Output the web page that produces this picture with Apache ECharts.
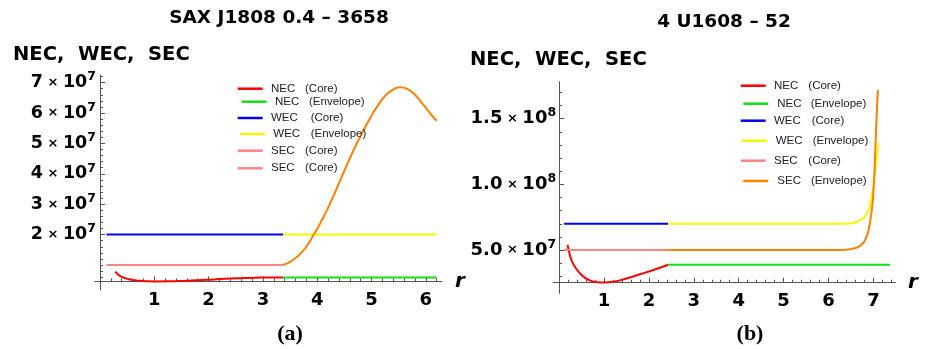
<!DOCTYPE html>
<html><head><meta charset="utf-8">
<script src="https://cdn.jsdelivr.net/npm/echarts@6/dist/echarts.min.js"></script>
<style>html,body{margin:0;padding:0;background:#fff}#c{width:926px;height:349px}</style>
</head><body><div id="c"></div>
<script>
// ---------- DATA (panel a: SAX J1808 0.4 - 3658) ----------
const titleA = 'SAX J1808 0.4 – 3658';
const xTicksA = [1, 2, 3, 4, 5, 6];
const yTicksA = [2e7, 3e7, 4e7, 5e7, 6e7, 7e7];
const necCoreA = [[0.28,7.8e6],[0.36,6.5e6],[0.45,5.75e6],[0.55,5.25e6],[0.66,4.93e6],[0.78,4.74e6],[0.9,4.63e6],[1.04,4.6e6],[1.25,4.63e6],[1.5,4.74e6],[1.8,4.95e6],[2.1,5.25e6],[2.4,5.53e6],[2.7,5.73e6],[3.0,5.85e6],[3.37,5.9e6]];
const necEnvA = [[3.37,5.9e6],[6.2,5.9e6]];
const wecCoreA = [[0.12,2e7],[3.37,2e7]];
const wecEnvA = [[3.37,2e7],[6.2,2e7]];
const secCoreA = [[0.12,1e7],[3.37,1e7]];
const secEnvA = [[3.37,1.0e7],[3.5,1.1e7],[3.65,1.3e7],[3.8,1.6e7],[3.93,1.98e7],[4.05,2.35e7],[4.2,2.88e7],[4.35,3.48e7],[4.5,4.1e7],[4.65,4.7e7],[4.8,5.25e7],[4.95,5.75e7],[5.1,6.2e7],[5.25,6.56e7],[5.4,6.78e7],[5.52,6.85e7],[5.65,6.8e7],[5.8,6.6e7],[5.95,6.28e7],[6.1,5.95e7],[6.2,5.74e7]];
const legendNamesA = ['NEC (Core)','NEC (Envelope)','WEC (Core)','WEC (Envelope)','SEC (Core)','SEC (Core)'];

// ---------- DATA (panel b: 4 U1608 - 52) ----------
const titleB = '4 U1608 – 52';
const xTicksB = [1, 2, 3, 4, 5, 6, 7];
const yTicksB = [5e7, 1e8, 1.5e8];
const necCoreB = [[0.19,5.38e7],[0.23,4.75e7],[0.28,4.2e7],[0.35,3.72e7],[0.45,3.28e7],[0.57,2.9e7],[0.7,2.67e7],[0.85,2.54e7],[0.99,2.52e7],[1.2,2.58e7],[1.5,2.83e7],[1.8,3.15e7],[2.1,3.48e7],[2.43,3.88e7]];
const necEnvB = [[2.43,3.88e7],[7.37,3.88e7]];
const wecCoreB = [[0.11,7e7],[2.43,7e7]];
const wecEnvB = [[2.43,7e7],[6.4,7e7],[6.55,7.06e7],[6.7,7.25e7],[6.81,7.54e7],[6.9,8.1e7],[6.96,9.0e7],[7.0,9.9e7],[7.04,11.0e7],[7.08,12.2e7],[7.11,13.15e7]];
const secCoreB = [[0.11,5e7],[2.43,5e7]];
const secEnvB = [[2.43,5e7],[6.3,5e7],[6.48,5.05e7],[6.6,5.15e7],[6.7,5.3e7],[6.8,5.65e7],[6.87,6.2e7],[6.92,7.0e7],[6.96,7.9e7],[6.99,8.9e7],[7.02,10.6e7],[7.035,12.0e7],[7.06,14.2e7],[7.08,15.8e7],[7.1,17.2e7]];
const legendNamesB = ['NEC (Core)','NEC (Envelope)','WEC (Core)','WEC (Envelope)','SEC (Core)','SEC (Envelope)'];

const yAxisTitle = 'NEC,  WEC,  SEC';
const xAxisTitle = 'r';
const panelTags = ['(a)', '(b)'];

// ---------- STYLE / LAYOUT ----------
const C = {red:'#ff0000', green:'#12e012', blue:'#0000ff', yellow:'#f6f600', pink:'#ff8585', orange:'#ff8000'};
const seriesColorsA = [C.red, C.green, C.blue, C.yellow, C.pink, C.orange];
const legendColorsA = [C.red, C.green, C.blue, C.yellow, C.pink, C.pink];
const legendColorsB = [C.red, C.green, C.blue, C.yellow, C.pink, C.orange];
// [iconLeft, iconCenterY, textStart, secondWordStart]
const legendPosA = [[237.7,88.7,271,305],[241.7,101.7,275,309],[237.7,118,271,310.7],[240,134,273.3,310.7],[237.7,150.7,271,305],[237.7,168.3,271,305]];
const legendPosB = [[740.7,85.7,774,808.3],[743.3,103.7,777.3,810.7],[740.7,120.7,774,811.7],[741.7,140.7,775.7,812.7],[740.7,160.7,774,808.3],[743.3,181,777.3,811]];

const BOLD = '"DejaVu Sans", "Liberation Sans", sans-serif';
const AX = '#555';

function minorTicks(from, to, step, majors) {
  const out = [];
  for (let v = from; v <= to + step * 1e-6; v += step) {
    const r = Math.round(v / step) * step;
    if (!majors.some(m => Math.abs(m - r) < step * 1e-3)) out.push(+r.toPrecision(6));
  }
  return out;
}

function yFormatter(dec) {
  return function (v) {
    const e = Math.floor(Math.log10(v) + 1e-9);
    const m = v / Math.pow(10, e);
    return '{n|' + m.toFixed(dec) + '}{x| × }{n|10}{s|' + e + '}';
  };
}
function yRich(fs) {
  return {
    n: {fontFamily: BOLD, fontWeight: 'bold', fontSize: fs, color: '#000', lineHeight: 24},
    x: {fontFamily: BOLD, fontWeight: 'bold', fontSize: 13, color: '#000', lineHeight: 24},
    s: {fontFamily: BOLD, fontWeight: 'bold', fontSize: 12.5, color: '#000', lineHeight: 9, verticalAlign: 'top'}
  };
}

// panel geometry
const G = [
  {left: 95, top: 75, width: 347, height: 215, xMin: -0.092, pxX: 54.3, yMax: 7.25e7, pxY: 30.4 / 1e7, cross: 0.46e7,
   xMaj: xTicksA, yMaj: yTicksA, xMinor: minorTicks(0.2, 6.2, 0.2, xTicksA), yMinor: minorTicks(0.6e7, 7.2e7, 0.2e7, yTicksA),
   dec: 0, fs: 17.5, margin: 4, nameGap: 13},
  {left: 553, top: 81.7, width: 342.5, height: 211.6, xMin: -0.136, pxX: 44.9, yMax: 17.82e7, pxY: 13.13 / 1e7, cross: 2.51e7,
   xMaj: xTicksB, yMaj: yTicksB, xMinor: minorTicks(0.2, 7.4, 0.2, xTicksB), yMinor: minorTicks(3e7, 17e7, 1e7, yTicksB),
   dec: 1, fs: 18, margin: 3, nameGap: 12.5}
];

const grids = [], xAxes = [], yAxes = [];
G.forEach((g, i) => {
  grids.push({left: g.left, top: g.top, width: g.width, height: g.height, containLabel: false, outerBoundsMode: 'none'});
  const xMax = g.xMin + g.width / g.pxX;
  const yMin = g.yMax - g.height / g.pxY;
  const yOff = g.xMin * g.pxX;
  const xOff = (g.top + (g.yMax - g.cross) * g.pxY) - (g.top + g.height);
  const common = {type: 'value', gridIndex: i, splitLine: {show: false}, minorTick: {show: false}};
  xAxes.push(Object.assign({}, common, {
    min: g.xMin, max: xMax, position: 'bottom', offset: xOff,
    axisLine: {show: true, onZero: false, lineStyle: {color: AX, width: 1}},
    axisTick: {show: true, inside: true, length: 5, lineStyle: {color: AX}, customValues: g.xMaj},
    axisLabel: {show: true, customValues: g.xMaj, margin: 10, fontFamily: BOLD, fontWeight: 'bold', fontSize: 18, color: '#000'},
    name: xAxisTitle, nameLocation: 'end', nameGap: g.nameGap,
    nameTextStyle: {fontFamily: BOLD, fontWeight: 'bold', fontStyle: 'italic', fontSize: 20, color: '#000', verticalAlign: 'middle', align: 'left'}
  }));
  xAxes.push(Object.assign({}, common, {
    min: g.xMin, max: xMax, position: 'bottom', offset: xOff,
    axisLine: {show: false, onZero: false},
    axisTick: {show: true, inside: true, length: 3, lineStyle: {color: AX}, customValues: g.xMinor},
    axisLabel: {show: false}
  }));
  yAxes.push(Object.assign({}, common, {
    min: yMin, max: g.yMax, position: 'left', offset: yOff,
    axisLine: {show: true, onZero: false, lineStyle: {color: AX, width: 1}},
    axisTick: {show: true, inside: true, length: 5, lineStyle: {color: AX}, customValues: g.yMaj},
    axisLabel: {show: true, customValues: g.yMaj, margin: g.margin, formatter: yFormatter(g.dec), rich: yRich(g.fs)}
  }));
  yAxes.push(Object.assign({}, common, {
    min: yMin, max: g.yMax, position: 'left', offset: yOff,
    axisLine: {show: false, onZero: false},
    axisTick: {show: true, inside: true, length: 3, lineStyle: {color: AX}, customValues: g.yMinor},
    axisLabel: {show: false}
  }));
});

function line(name, data, color, panel, smooth) {
  return {type: 'line', name, data, xAxisIndex: panel * 2, yAxisIndex: panel * 2,
    symbol: 'none', showSymbol: false, smooth: smooth,
    lineStyle: {color, width: 2}, itemStyle: {color}, silent: true, clip: true};
}
const seriesNames = ['NEC (Core)','NEC (Envelope)','WEC (Core)','WEC (Envelope)','SEC (Core)','SEC (Envelope)'];
const dataA = [necCoreA, necEnvA, wecCoreA, wecEnvA, secCoreA, secEnvA];
const dataB = [necCoreB, necEnvB, wecCoreB, wecEnvB, secCoreB, secEnvB];
const smoothA = [0.5, false, false, false, false, 0.5];
const smoothB = [0.5, false, false, false, false, false];
const series = [];
dataA.forEach((d, k) => series.push(line(seriesNames[k], d, seriesColorsA[k], 0, smoothA[k])));
dataB.forEach((d, k) => series.push(line(seriesNames[k], d, seriesColorsA[k], 1, smoothB[k])));

const LF = '"Liberation Sans", Arial, sans-serif';
function mkLegend(name, color, p) {
  const [x, y, t, t2] = p;
  const g = Math.max(0.5, t - (x + 25 + 5));
  const w = t2 - t;
  return {
    show: true, left: x, top: y - 7, padding: 0, itemWidth: 25, itemHeight: 2.5, icon: 'rect', selectedMode: false,
    data: [{name, icon: 'rect', itemStyle: {color}}],
    formatter: n => { const i = n.indexOf(' ('); return '{g| }{a|' + n.slice(0, i) + '}{b|' + n.slice(i + 1) + '}'; },
    textStyle: {fontFamily: LF, fontSize: 11.5, color: '#222', lineHeight: 14,
      rich: {g: {width: g, fontSize: 11.5, fontFamily: LF}, a: {width: w, fontSize: 11.5, fontFamily: LF, color: '#222'}, b: {fontSize: 11.5, fontFamily: LF, color: '#222'}}}
  };
}
const legends = [];
legendNamesA.forEach((n, k) => legends.push(mkLegend(n, legendColorsA[k], legendPosA[k])));
legendNamesB.forEach((n, k) => legends.push(mkLegend(n, legendColorsB[k], legendPosB[k])));

function txt(text, x, y, font, align) {
  return {type: 'text', x, y, silent: true,
    style: {text, font, fill: '#000', align: align || 'center', verticalAlign: 'middle', textAlign: align || 'center', textVerticalAlign: 'middle'}};
}
const graphics = [
  txt(titleA, 279, 18.5, 'bold 18.5px ' + BOLD),
  txt(titleB, 724, 22, 'bold 18.5px ' + BOLD),
  txt(yAxisTitle, 13, 55, 'bold 19.5px ' + BOLD, 'left'),
  txt(yAxisTitle, 470, 59.5, 'bold 19.5px ' + BOLD, 'left'),
  txt(panelTags[0], 290, 334, 'bold 22px "Liberation Serif", "Times New Roman", serif'),
  txt(panelTags[1], 750, 334, 'bold 22px "Liberation Serif", "Times New Roman", serif')
];

const chart = echarts.init(document.getElementById('c'), null, {renderer: 'canvas'});
chart.setOption({
  animation: false,
  backgroundColor: '#fff',
  grid: grids, xAxis: xAxes, yAxis: yAxes,
  legend: legends, series, graphic: graphics
});
</script></body></html>
